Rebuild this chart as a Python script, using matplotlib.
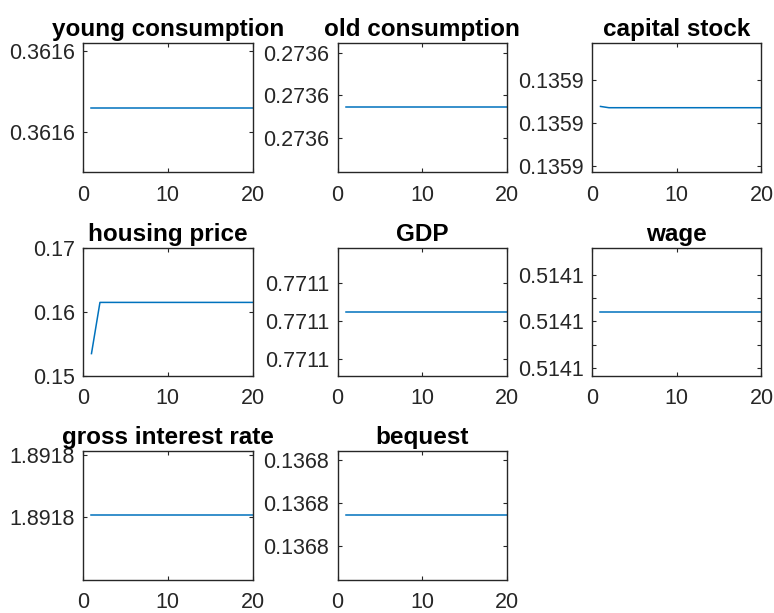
import matplotlib
matplotlib.use("Agg")
import matplotlib.pyplot as plt
from matplotlib.ticker import FormatStrFormatter

plt.rcParams['font.family'] = ['Liberation Sans', 'DejaVu Sans']

# period index
t = list(range(1, 21))

# series (steady state, nearly flat)
young_consumption = [0.36159993, 0.36159993, 0.36159993, 0.36159993, 0.36159993,
                     0.36159993, 0.36159993, 0.36159993, 0.36159993, 0.36159993,
                     0.36159993, 0.36159993, 0.36159993, 0.36159993, 0.36159993,
                     0.36159993, 0.36159993, 0.36159993, 0.36159993, 0.36159993]
old_consumption = [0.27360172, 0.27360172, 0.27360172, 0.27360172, 0.27360172,
                   0.27360172, 0.27360172, 0.27360172, 0.27360172, 0.27360172,
                   0.27360172, 0.27360172, 0.27360172, 0.27360172, 0.27360172,
                   0.27360172, 0.27360172, 0.27360172, 0.27360172, 0.27360172]
capital_stock = [0.13590238, 0.13590235, 0.13590235, 0.13590235, 0.13590235,
                 0.13590235, 0.13590235, 0.13590235, 0.13590235, 0.13590235,
                 0.13590235, 0.13590235, 0.13590235, 0.13590235, 0.13590235,
                 0.13590235, 0.13590235, 0.13590235, 0.13590235, 0.13590235]
housing_price = [0.1535, 0.1615, 0.1615, 0.1615, 0.1615,
                 0.1615, 0.1615, 0.1615, 0.1615, 0.1615,
                 0.1615, 0.1615, 0.1615, 0.1615, 0.1615,
                 0.1615, 0.1615, 0.1615, 0.1615, 0.1615]
gdp = [0.77110225, 0.77110225, 0.77110225, 0.77110225, 0.77110225,
       0.77110225, 0.77110225, 0.77110225, 0.77110225, 0.77110225,
       0.77110225, 0.77110225, 0.77110225, 0.77110225, 0.77110225,
       0.77110225, 0.77110225, 0.77110225, 0.77110225, 0.77110225]
wage = [0.51410342, 0.51410342, 0.51410342, 0.51410342, 0.51410342,
        0.51410342, 0.51410342, 0.51410342, 0.51410342, 0.51410342,
        0.51410342, 0.51410342, 0.51410342, 0.51410342, 0.51410342,
        0.51410342, 0.51410342, 0.51410342, 0.51410342, 0.51410342]
gross_interest = [1.89180104, 1.89180104, 1.89180104, 1.89180104, 1.89180104,
                  1.89180104, 1.89180104, 1.89180104, 1.89180104, 1.89180104,
                  1.89180104, 1.89180104, 1.89180104, 1.89180104, 1.89180104,
                  1.89180104, 1.89180104, 1.89180104, 1.89180104, 1.89180104]
bequest = [0.13680172, 0.13680172, 0.13680172, 0.13680172, 0.13680172,
           0.13680172, 0.13680172, 0.13680172, 0.13680172, 0.13680172,
           0.13680172, 0.13680172, 0.13680172, 0.13680172, 0.13680172,
           0.13680172, 0.13680172, 0.13680172, 0.13680172, 0.13680172]

titles = ["young consumption", "old consumption", "capital stock",
          "housing price", "GDP", "wage",
          "gross interest rate", "bequest"]
series = [young_consumption, old_consumption, capital_stock,
          housing_price, gdp, wage, gross_interest, bequest]

# y axis settings per panel: (ylim, major ticks, minor ticks, format)
yaxis = [
    ((0.36159985, 0.36160001), [0.3615999, 0.3616000], [], '%.4f'),
    ((0.27360019, 0.27360324), [0.273601, 0.273602, 0.273603], [], '%.4f'),
    ((0.13590085, 0.13590386), [0.135901, 0.135902, 0.135903], [], '%.4f'),
    ((0.15, 0.17), [0.15, 0.16, 0.17], [], '%.2f'),
    ((0.77110056, 0.77110392), [0.771101, 0.771102, 0.771103], [], '%.4f'),
    ((0.51410064, 0.51410618), [0.514101, 0.514103, 0.514105], [0.514102, 0.514104], '%.4f'),
    ((1.89179999, 1.89180206), [1.891801, 1.891802], [], '%.4f'),
    ((0.13680020, 0.13680321), [0.136801, 0.136802, 0.136803], [], '%.4f'),
]

W, H = 774, 613
fig = plt.figure(figsize=(W / 100, H / 100), dpi=100)

col_left = [83, 337.5, 592]
ax_w = 169.5
rows = [(43, 172), (248, 376), (451, 580)]

for i, (name, y) in enumerate(zip(titles, series)):
    r, c = divmod(i, 3)
    top, bot = rows[r]
    ax = fig.add_axes([col_left[c] / W, 1 - bot / H, ax_w / W, (bot - top) / H])
    ax.plot(t, y, color='#0072BD', lw=1.1)
    ylim, ticks, minor, fmt = yaxis[i]
    ax.set_xlim(0, 20)
    ax.set_xticks([0, 10, 20])
    ax.set_ylim(*ylim)
    ax.set_yticks(ticks)
    ax.set_yticks(minor, minor=True)
    ax.yaxis.set_major_formatter(FormatStrFormatter(fmt))
    ax.tick_params(which='both', direction='in', top=True, right=True,
                   length=3, width=0.8, color='#262626',
                   labelsize=15.5, labelcolor='#262626')
    ax.tick_params(axis='x', pad=9)
    ax.tick_params(axis='y', pad=6)
    for sp in ax.spines.values():
        sp.set_linewidth(1.0)
        sp.set_color('#262626')
    ax.set_title(name, fontsize=17.5, fontweight='bold', pad=5)

fig.savefig("out.png", dpi=100)
